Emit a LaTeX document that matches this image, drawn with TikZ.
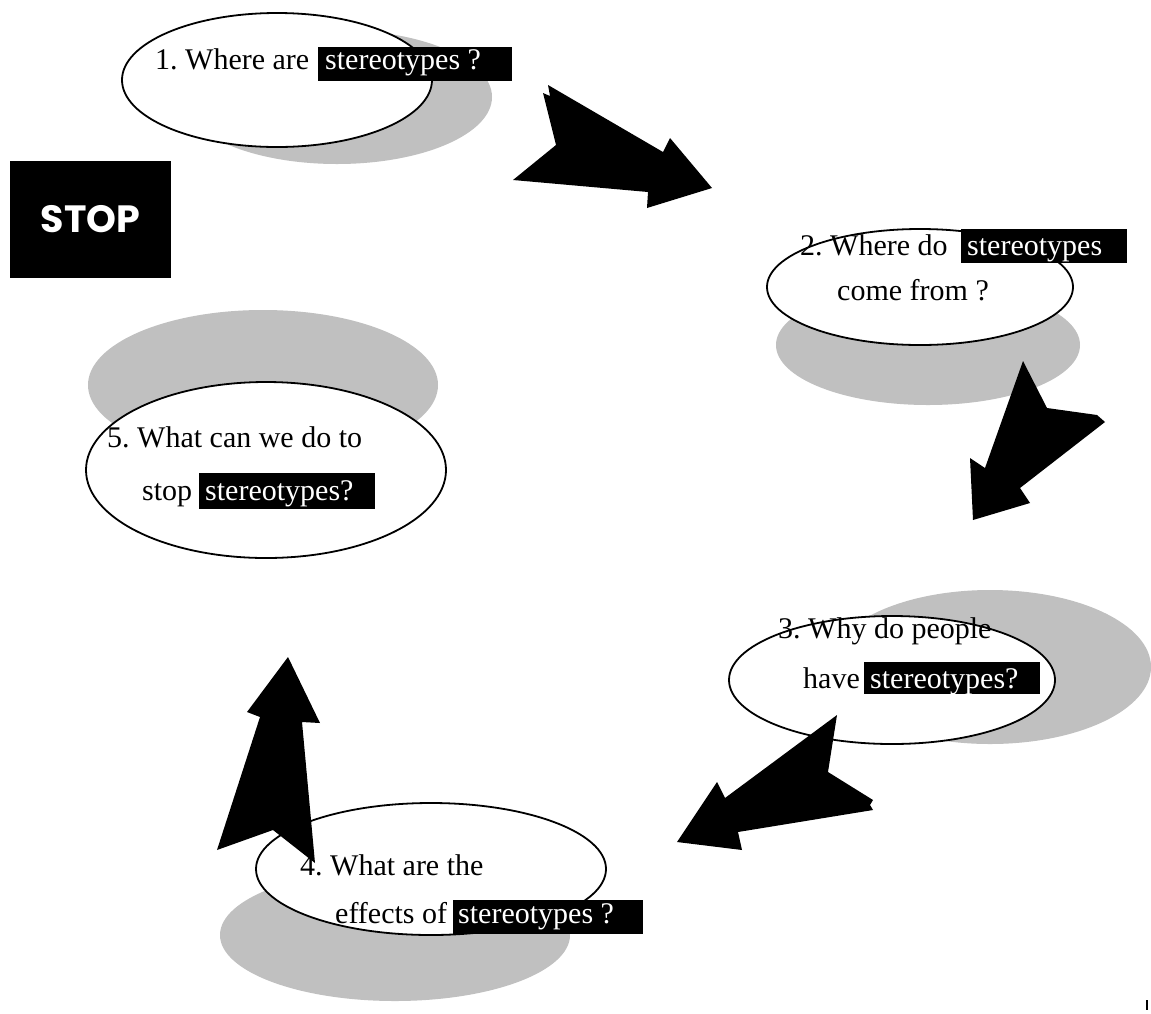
\documentclass[tikz,border=0pt]{standalone}
\usepackage{fontspec}
\setmainfont{Liberation Serif}
\newfontfamily\stopfont{Poppins}
\usetikzlibrary{shapes.geometric}
\definecolor{shadowgray}{RGB}{192,192,192}
\frenchspacing
\tikzset{
  bubble/.style={ellipse, draw=black, line width=1.8pt, fill=white, inner sep=0pt},
  shade/.style={ellipse, fill=shadowgray, draw=none, inner sep=0pt},
  blockarrow/.style={fill=black, draw=none},
  lbl/.style={anchor=base west, inner sep=0pt, font=\fontsize{30}{36}\selectfont},
  hltext/.style={lbl, text=white},
  hlbox/.style={fill=black, draw=none},
}
\begin{document}
\begin{tikzpicture}[x=1pt,y=-1pt]
\useasboundingbox (0,0) rectangle (1151,1013);
\fill[white] (0,0) rectangle (1151,1013);

% drop shadows
\node[shade, minimum width=310pt, minimum height=134pt] (s1) at (337,97) {};
\node[shade, minimum width=304pt, minimum height=120pt] (s2) at (928,345) {};
\node[shade, minimum width=322pt, minimum height=154pt] (s3) at (990,667) {};
\node[shade, minimum width=350pt, minimum height=132pt] (s4) at (395,935) {};
\node[shade, minimum width=350pt, minimum height=150pt] (s5) at (263,385) {};

% question bubbles
\node[bubble, minimum width=310pt, minimum height=134pt] (q1) at (277,80) {};
\node[bubble, minimum width=306pt, minimum height=116pt] (q2) at (920,287) {};
\node[bubble, minimum width=326pt, minimum height=128pt] (q3) at (892,680) {};
\node[bubble, minimum width=350pt, minimum height=132pt] (q4) at (431,869) {};
\node[bubble, minimum width=360pt, minimum height=176pt] (q5) at (266,470) {};

% block arrows between the bubbles
\fill[blockarrow] (513,180) -- (556,145) -- (543,93) -- (550,96) -- (548,85)
  -- (663,152) -- (670,138) -- (712,188) -- (647,208) -- (648,192) -- cycle;
\fill[blockarrow] (1023,361) -- (1047,408) -- (1097,415) -- (1105,422)
  -- (1020,488) -- (1030,503) -- (973,520) -- (970,458) -- (985,468) -- cycle;
\fill[blockarrow] (837,715) -- (828,772) -- (873,800) -- (870,805) -- (873,810)
  -- (738,832) -- (742,850) -- (677,842) -- (717,782) -- (725,798) -- cycle;
\fill[blockarrow] (288,657) -- (320,723) -- (302,722) -- (315,863) -- (273,830)
  -- (217,850) -- (260,717) -- (247,712) -- cycle;

% STOP sign
\node[fill=black, text=white, minimum width=161pt, minimum height=117pt, inner sep=0pt,
      font=\stopfont\bfseries\fontsize{38}{40}\selectfont] (stop) at (90.5,219.5) {STOP};

% highlight boxes
\fill[hlbox] (318,47) rectangle (512,81);
\fill[hlbox] (961,229) rectangle (1127,263);
\fill[hlbox] (864,662) rectangle (1040,694);
\fill[hlbox] (453,900) rectangle (643,934);
\fill[hlbox] (199,473) rectangle (375,509);

% question texts
\node[lbl] (t1a) at (155,69) {1. Where are};
\node[hltext] (t1b) at (325,69) {stereotypes ?};

\node[lbl] (t2a) at (800,255) {2. Where do};
\node[hltext] (t2b) at (967,255) {stereotypes};
\node[lbl] (t2c) at (837,300) {come from ?};

\node[lbl] (t3a) at (778,638) {3. Why do people};
\node[lbl] (t3b) at (803,688) {have};
\node[hltext] (t3c) at (870,688) {stereotypes?};

\node[lbl] (t4a) at (300,875) {4. What are the};
\node[lbl] (t4b) at (335,923) {effects of};
\node[hltext] (t4c) at (458,923) {stereotypes ?};

\node[lbl] (t5a) at (107,447) {5. What can we do to};
\node[lbl] (t5b) at (142,500) {stop};
\node[hltext] (t5c) at (205,500) {stereotypes?};

% small mark in the corner
\fill[black] (1146,1000) rectangle (1148,1010);
\end{tikzpicture}
\end{document}
